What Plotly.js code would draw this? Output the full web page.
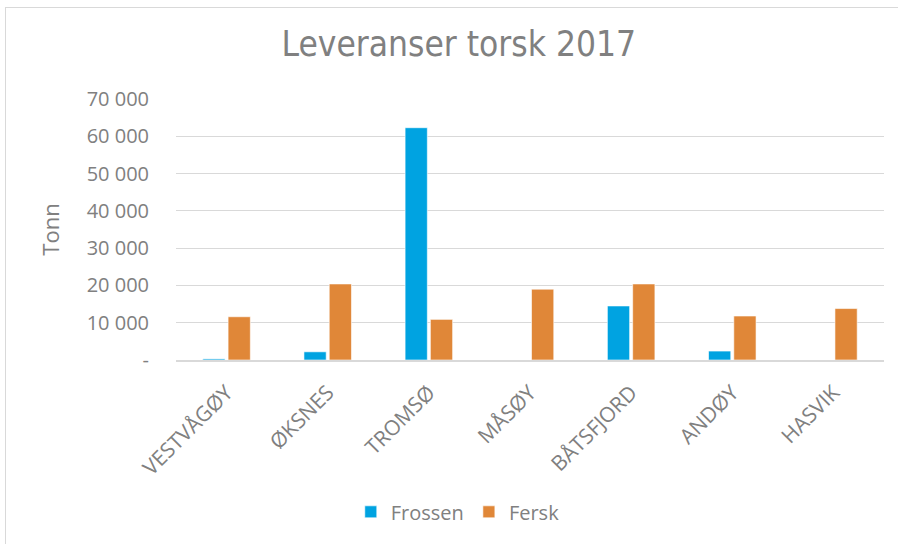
<!DOCTYPE html>
<html>
<head>
<meta charset="utf-8">
<script src="https://cdn.plot.ly/plotly-3.0.1.min.js"></script>
<style>
  html, body { margin: 0; padding: 0; background: #fff; overflow: hidden; }
  #frame { position: absolute; left: 5px; top: 7px; width: 900px; height: 545px;
           border: 1px solid #d9d9d9; box-sizing: border-box; }
  #chart { position: absolute; left: 0; top: 0; width: 893px; height: 537px; }
</style>
</head>
<body>
<div id="frame"><div id="chart"></div></div>
<script>
const categories = ["VESTVÅGØY", "ØKSNES", "TROMSØ", "MÅSØY", "BÅTSFJORD", "ANDØY", "HASVIK"];
const frossen = [300, 2200, 62300, 0, 14500, 2400, 0];
const fersk = [11600, 20400, 10900, 19000, 20400, 11800, 13800];
const yTickVals = [0, 10000, 20000, 30000, 40000, 50000, 60000, 70000];
const yTickText = ["-", "10 000", "20 000", "30 000", "40 000", "50 000", "60 000", "70 000"];

const grey = "#808080";
const baseFont = "Open Sans, Segoe UI, sans-serif";

const traces = [
  { type: "bar", name: "Frossen", x: categories, y: frossen,
    marker: { color: "#00A3E1", line: { color: "rgba(255,255,255,0.6)", width: 1 } } },
  { type: "bar", name: "Fersk", x: categories, y: fersk,
    marker: { color: "#E08738", line: { color: "rgba(255,255,255,0.6)", width: 1 } } }
];

const layout = {
  width: 893, height: 537,
  margin: { l: 170, r: 15, t: 91, b: 185, autoexpand: false },
  paper_bgcolor: "#fff", plot_bgcolor: "#fff",
  font: { family: baseFont, color: grey, size: 19 },
  title: { text: "Leveranser torsk 2017", x: 0.507, xanchor: "center", y: 0.956, yanchor: "top",
           font: { family: "Liberation Sans Narrow, DejaVu Sans Condensed, Roboto Condensed, sans-serif", size: 35, color: grey } },
  barmode: "group", bargap: 0.5, bargroupgap: 0.12,
  xaxis: {
    type: "category", tickangle: -45, tickfont: { size: 21, color: grey },
    showgrid: false, showline: true, linecolor: "#d9d9d9", linewidth: 2,
    ticks: "", ticklen: 0, automargin: false, ticklabelstandoff: 10
  },
  yaxis: {
    range: [0, 70000], tickvals: yTickVals, ticktext: yTickText, automargin: false,
    tickfont: { size: 20, color: grey }, ticks: "", ticklabelstandoff: 26,
    showgrid: true, gridcolor: "#d9d9d9", gridwidth: 1, zeroline: false, showline: false,
    title: { text: "Tonn", font: { size: 22, color: grey }, standoff: 20 }
  },
  showlegend: true,
  legend: { orientation: "h", x: 0.398, xanchor: "center", y: -0.507, yanchor: "top",
            font: { size: 20, color: grey }, traceorder: "normal", itemwidth: 30 }
};

Plotly.newPlot("chart", traces, layout, { displayModeBar: false, staticPlot: true });
</script>
</body>
</html>
